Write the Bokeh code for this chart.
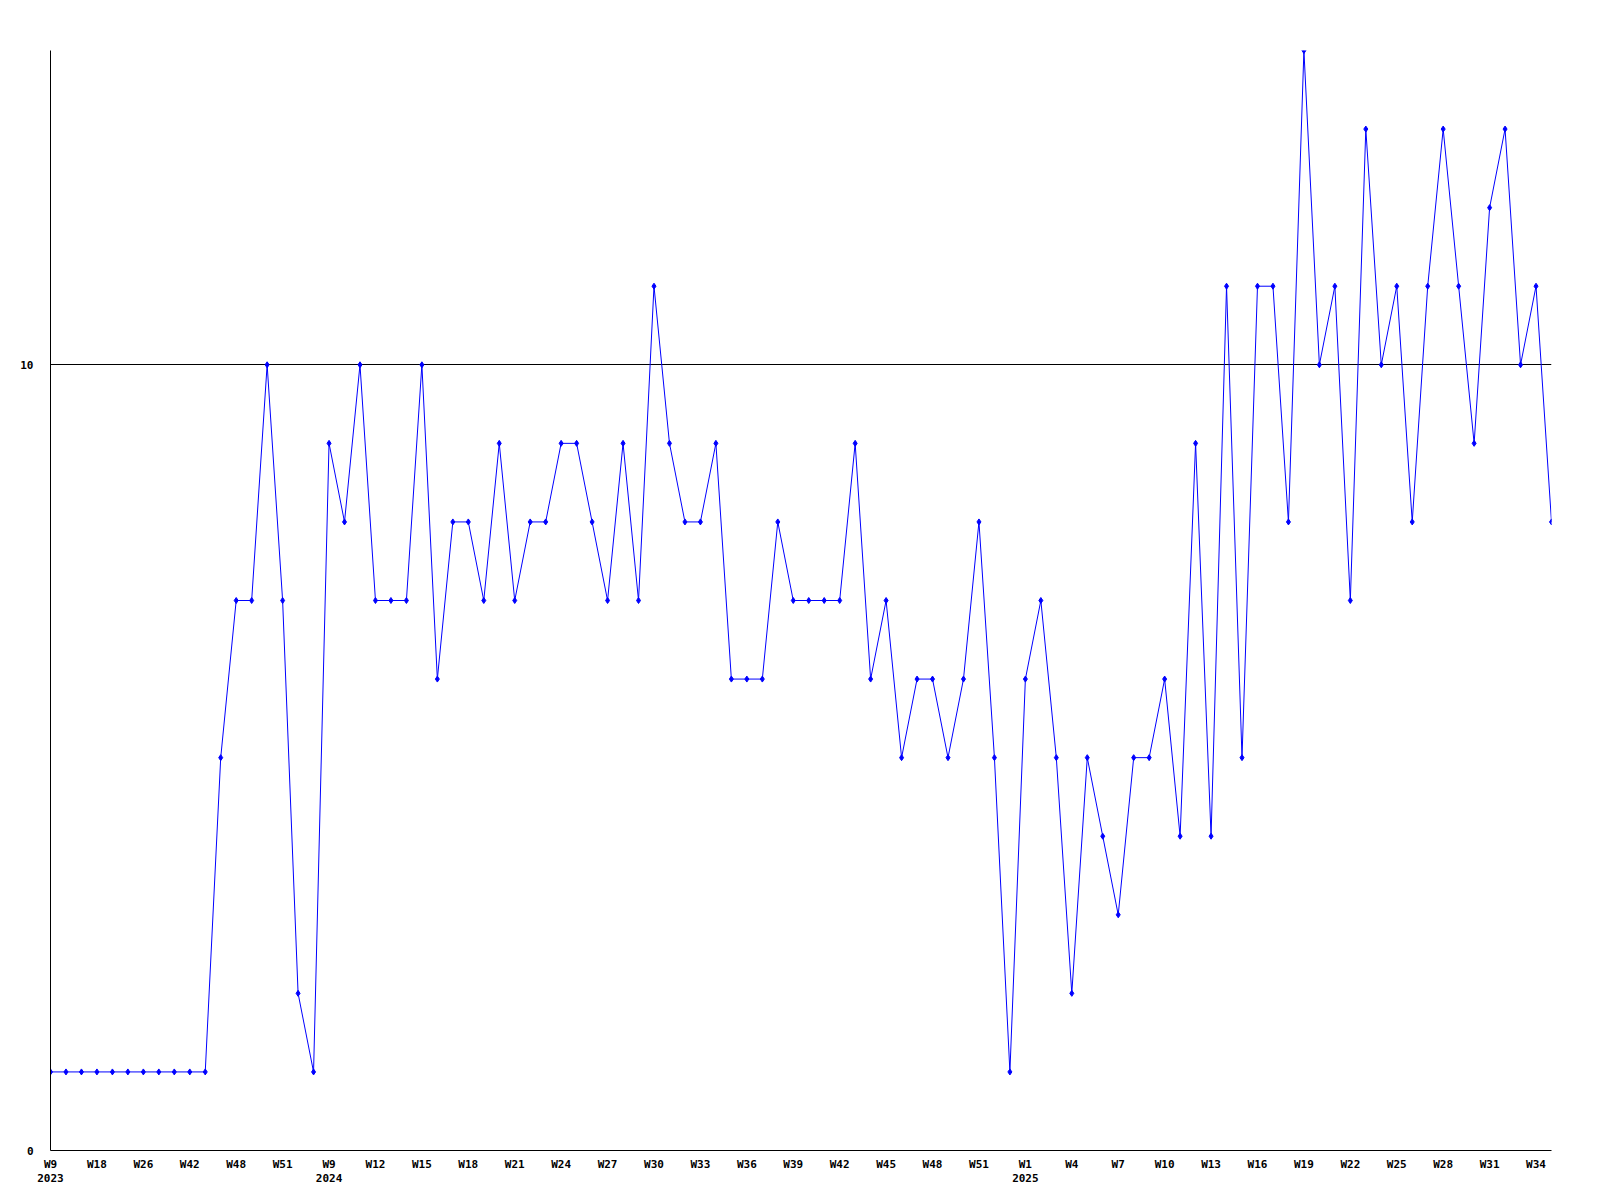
from bokeh.plotting import figure
from bokeh.models import Range1d, FixedTicker
from bokeh.embed import file_html
from bokeh.resources import INLINE

# weekly counts (one value per point, in order)
values = (
    [1, 1, 1, 1, 1, 1, 1, 1, 1, 1, 1]                 # idx 0-10
    + [5, 7, 7, 10, 7, 2, 1, 9, 8, 10]                # idx 11-20
    + [7, 7, 7, 10, 6, 8, 8, 7, 9, 7]                 # idx 21-30
    + [8, 8, 9, 9, 8, 7, 9, 7, 11, 9]                 # idx 31-40
    + [8, 8, 9, 6, 6, 6, 8, 7, 7, 7]                  # idx 41-50
    + [7, 9, 6, 7, 5, 6, 6, 5, 6, 8]                  # idx 51-60
    + [5, 1, 6, 7, 5, 2, 5, 4, 3, 5]                  # idx 61-70
    + [5, 6, 4, 9, 4, 11, 5, 11, 11, 8]               # idx 71-80
    + [14, 10, 11, 7, 13, 10, 11, 8, 11, 13]          # idx 81-90
    + [11, 9, 12, 13, 10, 11, 8]                      # idx 91-97
)
xs = list(range(len(values)))

# tick labels (every third point)
week_labels = (
    ["W9", "W18", "W26", "W42", "W48", "W51"]
    + ["W9", "W12", "W15", "W18", "W21", "W24", "W27", "W30", "W33",
       "W36", "W39", "W42", "W45", "W48", "W51"]
    + ["W1", "W4", "W7", "W10", "W13", "W16", "W19", "W22", "W25",
       "W28", "W31", "W34"]
)
year_labels = {0: "2023", 18: "2024", 63: "2025"}
y_ticks = [0, 10]

tick_pos = xs[::3][:len(week_labels)]
overrides = {}
for pos, lab in zip(tick_pos, week_labels):
    if pos in year_labels:
        overrides[pos] = lab + "\n" + year_labels[pos]
    else:
        overrides[pos] = lab

p = figure(width=1600, height=1200, output_backend="svg", toolbar_location=None,
           x_range=Range1d(0, len(values) - 1), y_range=Range1d(0, 14),
           min_border_left=50, min_border_right=49, min_border_top=50,
           min_border_bottom=50)
p.outline_line_color = None
p.background_fill_color = "white"
p.border_fill_color = "white"

p.line(xs, values, line_color="#0000ff", line_width=1)
p.scatter(xs, values, marker="diamond", size=6, fill_color="#0000ff",
          line_color="#0000ff")

FONT = "DejaVu Sans Mono"
p.xaxis.ticker = FixedTicker(ticks=tick_pos)
p.xaxis.major_label_overrides = overrides
p.yaxis.ticker = FixedTicker(ticks=y_ticks)
for ax in (p.xaxis, p.yaxis):
    ax.axis_line_color = "black"
    ax.axis_line_width = 1
    ax.major_tick_line_color = None
    ax.minor_tick_line_color = None
    ax.major_tick_out = 0
    ax.major_tick_in = 0
    ax.major_label_text_font = FONT
    ax.major_label_text_font_style = "bold"
    ax.major_label_text_font_size = "11px"
    ax.major_label_text_color = "black"
p.xaxis.major_label_standoff = 7
p.xaxis.major_label_text_line_height = 1.15
p.yaxis.major_label_standoff = 17

p.xgrid.grid_line_color = None
p.ygrid.grid_line_color = "black"
p.ygrid.grid_line_width = 1

open("out.html", "w").write(file_html(p, INLINE))
